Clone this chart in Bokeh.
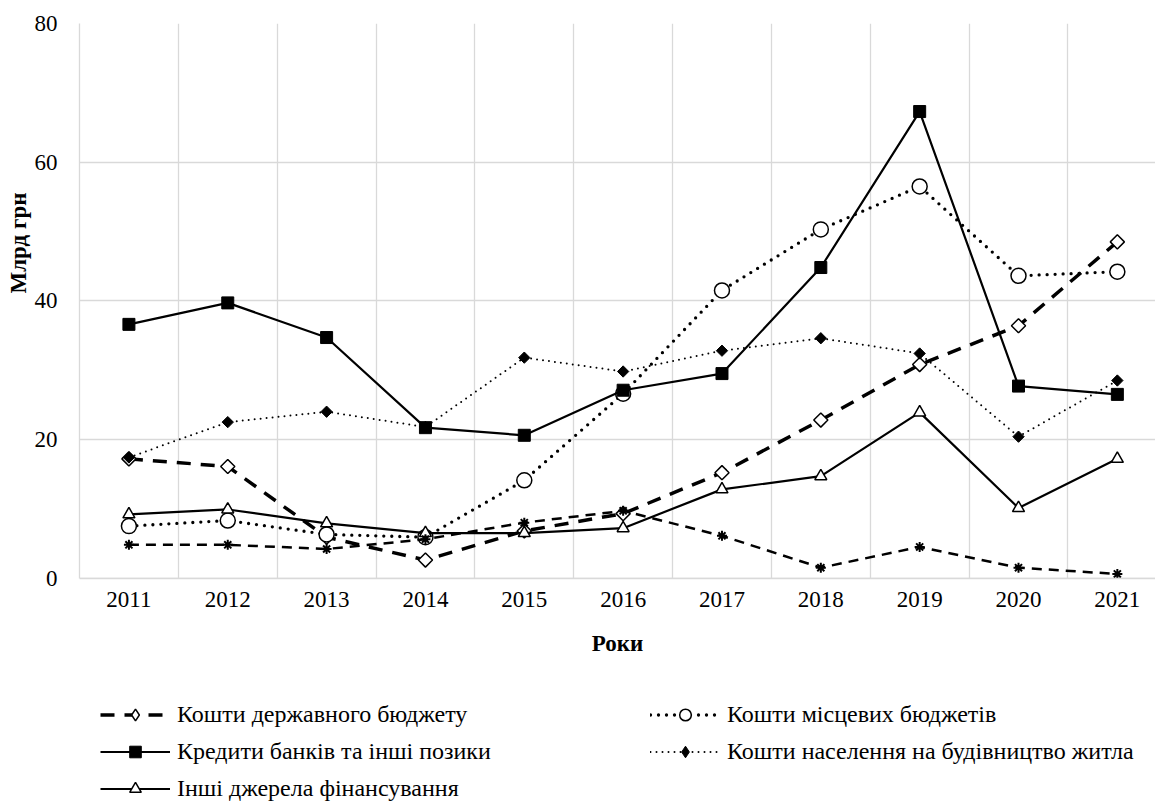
import math
from bokeh.plotting import figure
from bokeh.models import Legend, LegendItem, Title, FixedTicker, Range1d, BoxAnnotation
from bokeh.embed import file_html
from bokeh.resources import INLINE

years = ["2011", "2012", "2013", "2014", "2015", "2016", "2017", "2018", "2019", "2020", "2021"]
state_budget = [17.2, 16.1, 5.9, 2.6, 6.8, 9.3, 15.2, 22.8, 30.8, 36.4, 48.5]
local_budget = [7.5, 8.3, 6.3, 5.9, 14.1, 26.6, 41.5, 50.3, 56.5, 43.6, 44.2]
bank_credits = [36.6, 39.7, 34.7, 21.7, 20.6, 27.1, 29.5, 44.8, 67.3, 27.7, 26.5]
population = [17.4, 22.5, 24.0, 21.8, 31.8, 29.8, 32.8, 34.6, 32.4, 20.4, 28.5]
other_sources = [9.2, 9.9, 7.9, 6.5, 6.5, 7.2, 12.8, 14.7, 23.9, 10.1, 17.2]
unlabelled = [4.8, 4.8, 4.2, 5.6, 8.0, 9.7, 6.1, 1.5, 4.5, 1.5, 0.6]

legend_names = [
    "Кошти державного бюджету",
    "Кошти місцевих бюджетів",
    "Кредити банків та інші позики",
    "Кошти населення на будівництво житла",
    "Інші джерела фінансування",
]
y_title = "Млрд грн"
x_title = "Роки"
y_ticks = [0, 20, 40, 60, 80]

FONT = "Liberation Serif"
GRID = "#d9d9d9"

xs = list(range(len(years)))

# frame covers the whole lower part of the page; the value axis spans 0..80
p = figure(width=1155, height=803, output_backend="svg", toolbar_location=None,
           x_range=Range1d(-0.5, 10.386), y_range=Range1d(-32.514, 80),
           min_border_left=79, min_border_right=0, min_border_top=23,
           min_border_bottom=0)
p.outline_line_color = None
p.background_fill_color = "white"

# grids
p.xgrid.ticker = FixedTicker(ticks=[i - 0.5 for i in range(len(years) + 1)])
p.xgrid.grid_line_color = GRID
p.xgrid.grid_line_width = 1.3
p.ygrid.ticker = FixedTicker(ticks=y_ticks)
p.ygrid.grid_line_color = GRID
p.ygrid.grid_line_width = 1.3
# blank out the grid below the value 0
p.add_layout(BoxAnnotation(top=0, fill_color="white", fill_alpha=1, line_alpha=0,
                           level="underlay"))

# x axis drawn at value 0
p.xaxis.fixed_location = 0
p.xaxis.ticker = FixedTicker(ticks=xs)
p.xaxis.major_label_overrides = {i: y for i, y in enumerate(years)}
p.xaxis.axis_line_color = GRID
p.xaxis.axis_line_width = 1.3
p.xaxis.major_tick_line_color = None
p.xaxis.minor_tick_line_color = None
p.xaxis.major_tick_out = 0
p.xaxis.major_label_standoff = 14
p.xaxis.major_label_text_font = FONT
p.xaxis.major_label_text_font_size = "23px"
p.xaxis.major_label_text_color = "black"
p.xaxis.axis_label = x_title
p.xaxis.axis_label_text_font = FONT
p.xaxis.axis_label_text_font_size = "23px"
p.xaxis.axis_label_text_font_style = "bold"
p.xaxis.axis_label_text_color = "black"
p.xaxis.axis_label_standoff = 20

p.yaxis.ticker = FixedTicker(ticks=y_ticks)
p.yaxis.bounds = (y_ticks[0], y_ticks[-1])
p.yaxis.axis_line_color = GRID
p.yaxis.axis_line_width = 1.3
p.yaxis.major_tick_line_color = None
p.yaxis.minor_tick_line_color = None
p.yaxis.major_tick_out = 0
p.yaxis.major_label_standoff = 22
p.yaxis.major_label_text_font = FONT
p.yaxis.major_label_text_font_size = "23px"
p.yaxis.major_label_text_color = "black"

# y title on the left side
p.add_layout(Title(text=y_title, align="left", offset=510, text_font=FONT,
                   text_font_size="23px", text_font_style="bold", text_color="black",
                   standoff=2), "left")

# series
r1l = p.line(xs, state_budget, line_color="black", line_width=3.5, line_dash="14 10")
# small diamond hidden under the rotated square; it supplies the legend swatch
k1 = p.scatter(xs, state_budget, marker="diamond", size=6,
               fill_color="white", line_color="black", line_width=1.5)
r1m = p.scatter(xs, state_budget, marker="square", angle=math.pi / 4, size=10,
                fill_color="white", line_color="black", line_width=1.5)

r2l = p.line(xs, local_budget, line_color="black", line_width=3.3, line_dash="0 8", line_cap="round")
r2m = p.scatter(xs, local_budget, marker="circle", size=15,
                fill_color="white", line_color="black", line_width=1.5)

r3l = p.line(xs, bank_credits, line_color="black", line_width=2.2)
r3m = p.scatter(xs, bank_credits, marker="square", size=12,
                fill_color="black", line_color="black", line_width=1)

r4l = p.line(xs, population, line_color="black", line_width=2, line_dash="0 6", line_cap="round")
k4 = p.scatter(xs, population, marker="diamond", size=5,
               fill_color="black", line_color="black", line_width=1)
r4m = p.scatter(xs, population, marker="square", angle=math.pi / 4, size=8,
                fill_color="black", line_color="black", line_width=1)

r5l = p.line(xs, other_sources, line_color="black", line_width=2.2)
r5m = p.scatter(xs, other_sources, marker="triangle", size=12,
                fill_color="white", line_color="black", line_width=1.5)

r6l = p.line(xs, unlabelled, line_color="black", line_width=2.5, line_dash="10 7")
r6m = p.scatter(xs, unlabelled, marker="asterisk", size=10,
                line_color="black", line_width=2)

legend = Legend(items=[
    LegendItem(label=legend_names[0], renderers=[r1l, k1]),
    LegendItem(label=legend_names[1], renderers=[r2l, r2m]),
    LegendItem(label=legend_names[2], renderers=[r3l, r3m]),
    LegendItem(label=legend_names[3], renderers=[r4l, k4]),
    LegendItem(label=legend_names[4], renderers=[r5l, r5m]),
], orientation="horizontal", ncols=2, location=(21, 0),
    glyph_width=70, glyph_height=29, label_height=29, label_width=465, spacing=8,
    label_standoff=7, padding=0, margin=0,
    border_line_color=None, background_fill_alpha=0,
    label_text_font=FONT, label_text_font_size="24px", label_text_color="black")
p.add_layout(legend, "center")

open("out.html", "w").write(file_html(p, INLINE))
